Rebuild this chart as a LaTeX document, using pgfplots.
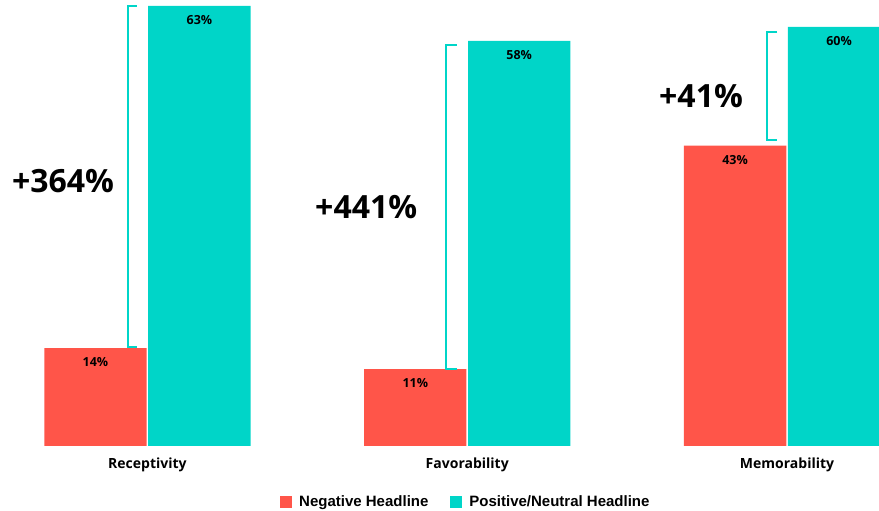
\documentclass[border=0pt]{standalone}
\usepackage{pgfplots}
\pgfplotsset{compat=1.18}
\usepackage{fontspec}
\setmainfont{Open Sans}
\newfontfamily\legfont{Liberation Sans}
\definecolor{negred}{HTML}{FF5549}
\definecolor{posteal}{HTML}{00D5C8}
\begin{document}
\begin{tikzpicture}
\begin{axis}[
  scale only axis,
  width=879pt, height=446pt,
  xmin=-0.461, xmax=2.2875,
  ymin=0, ymax=63.86,
  axis line style={draw=none},
  tick style={draw=none},
  ytick=\empty,
  xtick={0,1,2},
  xticklabels={Receptivity,Favorability,Memorability},
  xticklabel style={font=\fontsize{14}{16}\selectfont\bfseries, yshift=-4pt},
  ybar,
  bar width=0.32,
  nodes near coords={\pgfmathprintnumber[assume math mode=true]{\pgfplotspointmeta}\%},
  every node near coord/.append style={anchor=north, yshift=-6pt, font=\fontsize{12.5}{14}\selectfont\bfseries, text=black},
  legend style={at={(axis description cs:0.53,-0.1256)}, anchor=center, draw=none, legend columns=2,
    font=\legfont\fontsize{15}{17}\selectfont\bfseries,
    /tikz/every odd column/.append style={column sep=5pt},
    /tikz/every even column/.append style={column sep=20pt}},
  legend image code/.code={\fill[#1] (0pt,-6pt) rectangle (12pt,6pt);},
]
\addplot[fill=negred, draw=none, bar shift=-0.1625] coordinates {(0,14) (1,11) (2,43)};
\addplot[fill=posteal, draw=none, bar shift=0.1625] coordinates {(0,63) (1,58) (2,60)};
\legend{Negative Headline, Positive/Neutral Headline}
% brackets
\draw[posteal, line width=1.5pt] (axis cs:-0.033,63) -- (axis cs:-0.061,63) -- (axis cs:-0.061,14.2) -- (axis cs:-0.033,14.2);
\draw[posteal, line width=1.5pt] (axis cs:0.967,57.4) -- (axis cs:0.934,57.4) -- (axis cs:0.934,11.0) -- (axis cs:0.967,11.0);
\draw[posteal, line width=1.5pt] (axis cs:1.969,59.3) -- (axis cs:1.9375,59.3) -- (axis cs:1.9375,43.8) -- (axis cs:1.969,43.8);
\node[font=\fontsize{32}{36}\selectfont\bfseries] at (axis cs:-0.264,37.9) {+364\%};
\node[font=\fontsize{32}{36}\selectfont\bfseries] at (axis cs:0.684,34.2) {+441\%};
\node[font=\fontsize{32}{36}\selectfont\bfseries] at (axis cs:1.731,50.1) {+41\%};
\end{axis}
\pgfresetboundingbox
\path (0pt,-65pt) rectangle (879pt,446pt);
\end{tikzpicture}
\end{document}
